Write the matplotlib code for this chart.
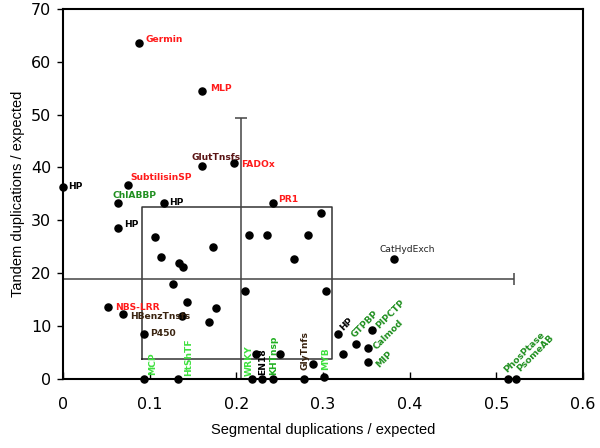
import matplotlib
matplotlib.use("Agg")
import matplotlib.pyplot as plt

# ---- data ----
lab_names = ["Germin", "MLP", "GlutTnsfs", "FADOx", "SubtilisinSP", "HP", "ChlABBP", "HP",
             "PR1", "HP", "NBS-LRR", "HBenzTnsfs", "P450", "CatHydExch",
             "MCP", "HtShTF", "WRKY", "EN18", "KHTnsp", "GlyTnfs", "MYB",
             "HP", "GTPBP", "PIPCTP", "Calmod", "MIP", "PhosPtase", "PsomeAB"]
lab_x = [0.088, 0.160, 0.160, 0.197, 0.075, 0.0, 0.063, 0.116,
         0.242, 0.063, 0.052, 0.069, 0.094, 0.3815,
         0.093, 0.133, 0.218, 0.230, 0.242, 0.278, 0.3006,
         0.317, 0.338, 0.356, 0.3514, 0.352, 0.5133, 0.5225]
lab_y = [63.6, 54.5, 40.3, 40.9, 36.6, 36.4, 33.3, 33.3,
         33.3, 28.6, 13.5, 12.2, 8.5, 22.7,
         0.0, 0.0, 0.0, 0.0, 0.0, 0.0, 0.4,
         8.4, 6.5, 9.2, 5.8, 3.2, 0.0, 0.0]

other_x = [0.2975, 0.1064, 0.215, 0.2355, 0.2829, 0.1734, 0.2667, 0.1129, 0.134, 0.1387,
           0.1268, 0.2104, 0.3033, 0.1433, 0.176, 0.1368, 0.168, 0.2223, 0.250, 0.2887, 0.3234]
other_y = [31.4, 26.9, 27.3, 27.3, 27.3, 25.0, 22.7, 23.0, 21.9, 21.2,
           17.9, 16.7, 16.7, 14.5, 13.4, 11.8, 10.7, 4.6, 4.6, 2.8, 4.7]

mean_x, mean_y = 0.205, 18.9
xerr_lo, xerr_hi = 0.205, 0.315
yerr_lo, yerr_hi = 18.9, 30.4
box_x0, box_x1 = 0.091, 0.310
box_y0, box_y1 = 3.7, 32.6

# ---- styles ----
RED = "#ff1a1a"
MAROON = "#5a1414"
BROWN = "#3a2410"
BLACK = "#000000"
DGREEN = "#1f8f1f"
BGREEN = "#3ee03e"
MGREEN = "#22b022"

# (color, rotation, dx px, dy px, ha, va, weight)
styles = [
    (RED, 0, 6, 3, "left", "center", "bold"),
    (RED, 0, 8, 2, "left", "center", "bold"),
    (MAROON, 0, -10, 4, "left", "bottom", "bold"),
    (RED, 0, 7, -2, "left", "center", "bold"),
    (RED, 0, 2, 3, "left", "bottom", "bold"),
    (BLACK, 0, 5, 0, "left", "center", "bold"),
    (DGREEN, 0, -5, 3, "left", "bottom", "bold"),
    (BLACK, 0, 6, 0, "left", "center", "bold"),
    (RED, 0, 5, 3, "left", "center", "bold"),
    (BLACK, 0, 7, 3, "left", "center", "bold"),
    (RED, 0, 7, 0, "left", "center", "bold"),
    (BROWN, 0, 7, -2, "left", "center", "bold"),
    (BROWN, 0, 6, 0, "left", "center", "bold"),
    ("#222222", 0, -14, 5, "left", "bottom", "normal"),
    (BGREEN, 90, 9, 4, "left", "center", "bold"),
    (BGREEN, 90, 10, 3, "left", "center", "bold"),
    (BGREEN, 90, -3, 3, "left", "center", "bold"),
    (BLACK, 90, 0, 4, "left", "center", "bold"),
    (MGREEN, 90, 1, 4, "left", "center", "bold"),
    (BROWN, 90, 1, 9, "left", "center", "bold"),
    (BGREEN, 90, 2, 7, "left", "center", "bold"),
    (BLACK, 45, 4, 5, "left", "center", "bold"),
    (DGREEN, 45, -3, 8, "left", "center", "bold"),
    (DGREEN, 45, 6, 3, "left", "center", "bold"),
    (DGREEN, 45, 7, 0, "left", "center", "bold"),
    (DGREEN, 45, 9, -4, "left", "center", "bold"),
    (DGREEN, 45, -3, 7, "left", "center", "bold"),
    (DGREEN, 45, 3, 8, "left", "center", "bold"),
]

fig = plt.figure(figsize=(6, 4.48), dpi=100)
ax = fig.add_axes([0.105, 0.1547, 0.8667, 0.825])

ax.set_xlim(0, 0.6)
ax.set_ylim(0, 70)

# box
ax.plot([box_x0, box_x1, box_x1, box_x0, box_x0],
        [box_y0, box_y0, box_y1, box_y1, box_y0], color="#333333", lw=1.1, zorder=2)
# crosshair / error bars
ax.errorbar([mean_x], [mean_y], xerr=[[xerr_lo], [xerr_hi]], yerr=[[yerr_lo], [yerr_hi]],
            fmt="none", ecolor="#444444", elinewidth=1.1, capsize=4.5, capthick=1.1, zorder=2)

ax.scatter(other_x, other_y, s=26, color="black", zorder=4, clip_on=False)
ax.scatter(lab_x, lab_y, s=26, color="black", zorder=4, clip_on=False)

for name, x, y, st in zip(lab_names, lab_x, lab_y, styles):
    col, rot, dx, dy, ha, va, wt = st
    ax.annotate(name, (x, y), xytext=(dx, dy), textcoords="offset pixels",
                ha=ha, va=va, rotation=rot, rotation_mode="anchor",
                color=col, fontsize=6.6, fontweight=wt, family="DejaVu Sans",
                zorder=5, annotation_clip=False)

ax.set_xticks([0, 0.1, 0.2, 0.3, 0.4, 0.5, 0.6])
ax.set_xticklabels(["0", "0.1", "0.2", "0.3", "0.4", "0.5", "0.6"])
ax.set_yticks([0, 10, 20, 30, 40, 50, 60, 70])
ax.tick_params(axis="x", direction="in", length=5, width=1, pad=13, labelsize=11.5)
ax.tick_params(axis="y", direction="out", length=4, width=1, pad=4.5, labelsize=11.5)
for sp in ax.spines.values():
    sp.set_linewidth(1.5)

ax.set_xlabel("Segmental duplications / expected", family="Liberation Sans", fontsize=10.5, labelpad=8)
ax.set_ylabel("Tandem duplications / expected", family="Liberation Sans", fontsize=10.5, labelpad=4)

fig.savefig("out.png", dpi=100)
